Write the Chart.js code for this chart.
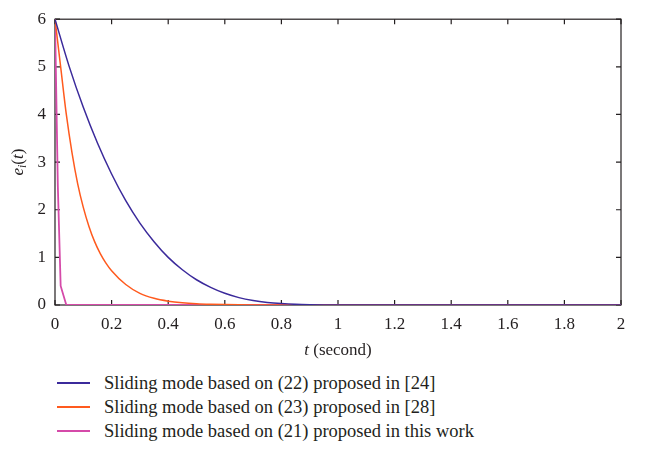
<!DOCTYPE html>
<html>
<head>
<meta charset="utf-8">
<script src="https://cdn.jsdelivr.net/npm/chart.js@4"></script>
<style>
    body { margin: 0; background: #fff; }
    #wrap { position: relative; width: 646px; height: 360px; }
    #legend { position: relative; width: 646px; height: 91px; font-family: "Liberation Serif", "Times New Roman", serif; font-size: 18.5px; color: #231f20; }
    .item { position: absolute; left: 57px; height: 22px; }
    .item .swatch { position: absolute; left: 0; top: 10px; width: 33px; height: 1.5px; }
    .item .label { position: absolute; left: 47px; top: 0; white-space: nowrap; line-height: 22px; }
</style>
</head>
<body>
<div id="wrap"><canvas id="errChart" width="646" height="360"></canvas></div>
<div id="legend"></div>
<script>
// ========================================
// DATA
// ========================================

const seriesLabels = [
    'Sliding mode based on (22) proposed in [24]',
    'Sliding mode based on (23) proposed in [28]',
    'Sliding mode based on (21) proposed in this work'
];
const seriesColors = ['#3b2a9b', '#ff5a1e', '#d54aa9'];

// e_i(t) for the scheme from [24]
const tBlue = [0, 0.05, 0.1, 0.15, 0.2, 0.25, 0.3, 0.35, 0.4, 0.45, 0.5, 0.55, 0.6, 0.65, 0.7, 0.75, 0.8, 0.85, 0.9, 0.95, 1.0, 2.0];
const eBlue = [6, 5.01, 4.15, 3.4, 2.75, 2.19, 1.72, 1.33, 1.0, 0.74, 0.53, 0.37, 0.245, 0.155, 0.095, 0.055, 0.03, 0.014, 0.006, 0.002, 0, 0];

// e_i(t) for the scheme from [28]
const tOrange = [0, 0.02, 0.04, 0.06, 0.08, 0.1, 0.12, 0.14, 0.16, 0.18, 0.2, 0.25, 0.3, 0.35, 0.4, 0.45, 0.5, 0.55, 0.6, 0.7, 0.8, 2.0];
const eOrange = [6, 5.0, 4.0, 3.2, 2.55, 2.05, 1.65, 1.33, 1.08, 0.88, 0.72, 0.43, 0.245, 0.14, 0.08, 0.045, 0.025, 0.014, 0.008, 0.002, 0, 0];

// e_i(t) for the proposed scheme (21)
const tPink = [0, 0.01, 0.02, 0.04, 2.0];
const ePink = [6, 2.5, 0.4, 0, 0];

const xTicks = [0, 0.2, 0.4, 0.6, 0.8, 1, 1.2, 1.4, 1.6, 1.8, 2];
const yTicks = [0, 1, 2, 3, 4, 5, 6];

// ========================================
// HELPERS
// ========================================

const FONT = '"Liberation Serif", "Times New Roman", serif';
const INK = '#231f20';

function toPoints(ts, es) {
    return ts.map((t, i) => ({ x: t, y: es[i] }));
}

// box round the plot area, with inward ticks on all four sides
const frameTicks = {
    id: 'frameTicks',
    beforeDatasetsDraw(chart) {
        const { ctx, chartArea: a, scales: { x, y } } = chart;
        ctx.save();
        ctx.strokeStyle = INK;
        ctx.lineWidth = 1.2;
        ctx.strokeRect(a.left, a.top, a.right - a.left, a.bottom - a.top);
        ctx.beginPath();
        xTicks.forEach(v => {
            const px = x.getPixelForValue(v);
            ctx.moveTo(px, a.bottom); ctx.lineTo(px, a.bottom - 5);
            ctx.moveTo(px, a.top); ctx.lineTo(px, a.top + 5);
        });
        yTicks.forEach(v => {
            const py = y.getPixelForValue(v);
            ctx.moveTo(a.left, py); ctx.lineTo(a.left + 5, py);
            ctx.moveTo(a.right, py); ctx.lineTo(a.right - 5, py);
        });
        ctx.stroke();
        ctx.restore();
    },
    afterDraw(chart) {
        const { ctx, chartArea: a } = chart;
        ctx.save();
        ctx.fillStyle = INK;
        ctx.textBaseline = 'alphabetic';

        // x title: "t (second)" with italic t
        const italic = 'italic 17px ' + FONT;
        const roman = '17px ' + FONT;
        ctx.font = italic;
        const wT = ctx.measureText('t').width;
        ctx.font = roman;
        const wRest = ctx.measureText(' (second)').width;
        const cx = (a.left + a.right) / 2 - (wT + wRest) / 2;
        ctx.font = italic; ctx.fillText('t', cx, 355);
        ctx.font = roman; ctx.fillText(' (second)', cx + wT, 355);

        // y title: e_i(t), rotated
        ctx.translate(23, (a.top + a.bottom) / 2);
        ctx.rotate(-Math.PI / 2);
        const parts = [
            { s: 'e', f: italic, dy: 0 },
            { s: 'i', f: 'italic 12px ' + FONT, dy: 3 },
            { s: '(', f: roman, dy: 0 },
            { s: 't', f: italic, dy: 0 },
            { s: ')', f: roman, dy: 0 }
        ];
        let total = 0;
        parts.forEach(p => { ctx.font = p.f; p.w = ctx.measureText(p.s).width; total += p.w; });
        let px = -total / 2;
        parts.forEach(p => { ctx.font = p.f; ctx.fillText(p.s, px, p.dy); px += p.w; });
        ctx.restore();
    }
};

// ========================================
// CHART
// ========================================

const datasets = [
    [tBlue, eBlue],
    [tOrange, eOrange],
    [tPink, ePink]
].map(([ts, es], i) => ({
    label: seriesLabels[i],
    data: toPoints(ts, es),
    borderColor: seriesColors[i],
    backgroundColor: seriesColors[i],
    borderWidth: i === 2 ? 1.8 : 1.5,
    pointRadius: 0,
    cubicInterpolationMode: i === 2 ? 'default' : 'monotone',
    tension: 0
}));

new Chart(document.getElementById('errChart'), {
    type: 'line',
    data: { datasets },
    options: {
        responsive: false,
        animation: false,
        devicePixelRatio: 1,
        layout: { padding: { left: 0, right: 25, top: 10, bottom: 0 } },
        plugins: {
            legend: { display: false },
            tooltip: { enabled: false }
        },
        scales: {
            x: {
                type: 'linear',
                min: 0,
                max: 2,
                grid: { display: false, drawTicks: false },
                border: { display: false },
                afterBuildTicks: s => { s.ticks = xTicks.map(v => ({ value: v })); },
                afterFit: s => { s.height = 55; },
                ticks: {
                    color: INK,
                    padding: 9,
                    maxRotation: 0,
                    font: { family: FONT, size: 17 },
                    callback: v => String(v)
                }
            },
            y: {
                type: 'linear',
                min: 0,
                max: 6,
                grid: { display: false, drawTicks: false },
                border: { display: false },
                afterBuildTicks: s => { s.ticks = yTicks.map(v => ({ value: v })); },
                afterFit: s => { s.width = 55; },
                ticks: {
                    color: INK,
                    padding: 9,
                    font: { family: FONT, size: 17 }
                }
            }
        }
    },
    plugins: [frameTicks]
});

// ========================================
// LEGEND
// ========================================

const legendEl = document.getElementById('legend');
seriesLabels.forEach((label, i) => {
    const item = document.createElement('div');
    item.className = 'item';
    item.style.top = (12 + i * 24) + 'px';
    item.innerHTML = `<div class="swatch" style="background:${seriesColors[i]}"></div><div class="label">${label}</div>`;
    legendEl.appendChild(item);
});
</script>
</body>
</html>
